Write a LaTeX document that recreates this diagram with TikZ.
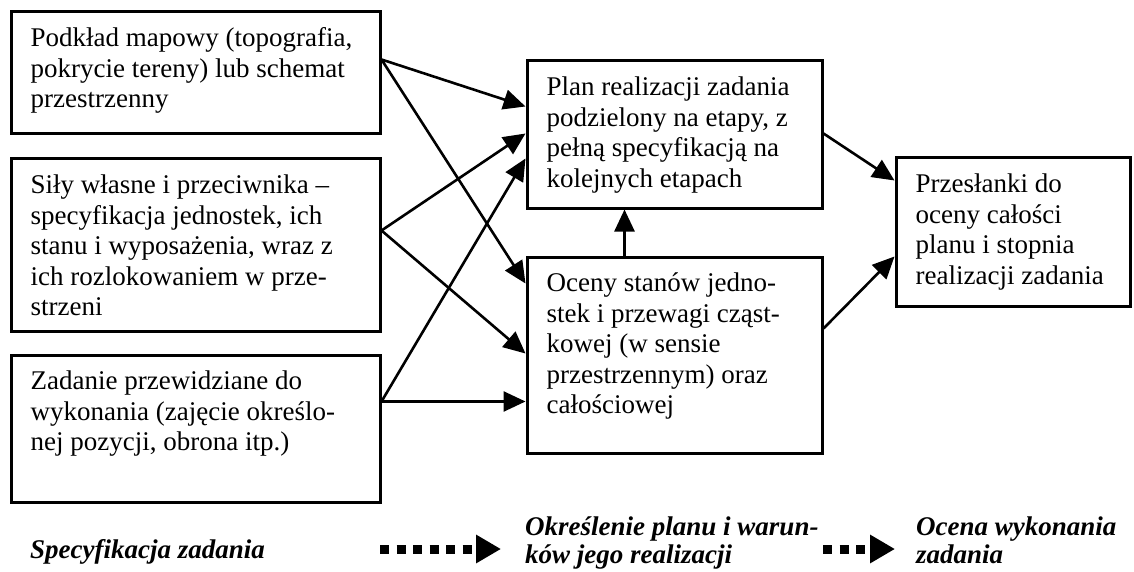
\documentclass[tikz,border=0pt]{standalone}
\usepackage{fontspec}
\setmainfont{Liberation Serif}
\usetikzlibrary{arrows.meta}
\begin{document}
\begin{tikzpicture}[x=1pt,y=-1pt,
  box/.style={draw, line width=3pt, rectangle, inner sep=0pt},
  boxtext/.style={anchor=north west, inner sep=0pt, align=left, font=\fontsize{27}{30.5}\selectfont},
  phase/.style={anchor=north west, inner sep=0pt, align=left, font=\fontsize{27}{28}\selectfont\bfseries\itshape},
  conn/.style={line width=2.6pt, -{Triangle[length=22pt,width=20pt]}},
  dotarrow/.style={line width=9pt, dash pattern=on 9pt off 7.5pt, -{Triangle[length=25pt,width=27pt]}}]
\useasboundingbox (0,0) rectangle (1134,572);
% boxes
\node[box, minimum width=369pt, minimum height=122pt] (A) at (195.5,73) {};
\node[box, minimum width=369pt, minimum height=172pt] (B) at (195.5,245) {};
\node[box, minimum width=369pt, minimum height=147pt] (C) at (195.5,428.5) {};
\node[box, minimum width=295pt, minimum height=147pt] (P) at (674.5,134.5) {};
\node[box, minimum width=295pt, minimum height=196pt] (O) at (674.5,355) {};
\node[box, minimum width=234pt, minimum height=148pt] (R) at (1013,232) {};
% texts
\node[boxtext] (tA) at ([xshift=21pt,yshift=-14.65pt]A.north west) {\strut Podkład mapowy (topografia,\\pokrycie tereny) lub schemat\\przestrzenny};
\node[boxtext] (tB) at ([xshift=21pt,yshift=-14.65pt]B.north west) {\strut Siły własne i przeciwnika –\\specyfikacja jednostek, ich\\stanu i wyposażenia, wraz z\\ich rozlokowaniem w prze-\\strzeni};
\node[boxtext] (tC) at ([xshift=21pt,yshift=-14.65pt]C.north west) {\strut Zadanie przewidziane do\\wykonania (zajęcie określo-\\nej pozycji, obrona itp.)};
\node[boxtext] (tP) at ([xshift=21pt,yshift=-14.65pt]P.north west) {\strut Plan realizacji zadania\\podzielony na etapy, z\\pełną specyfikacją na\\kolejnych etapach};
\node[boxtext] (tO) at ([xshift=21pt,yshift=-14.65pt]O.north west) {\strut Oceny stanów jedno-\\stek i przewagi cząst-\\kowej (w sensie\\przestrzennym) oraz\\całościowej};
\node[boxtext] (tR) at ([xshift=21pt,yshift=-14.65pt]R.north west) {\strut Przesłanki do\\oceny całości\\planu i stopnia\\realizacji zadania};
% connectors
\draw[conn] ([yshift=-49pt]A.north east) -- ([yshift=-47pt]P.north west);
\draw[conn] ([yshift=-49pt]A.north east) -- ([yshift=-28pt]O.north west);
\draw[conn] ([yshift=-73pt]B.north east) -- ([yshift=-74pt]P.north west);
\draw[conn] ([yshift=-73pt]B.north east) -- ([yshift=-98pt]O.north west);
\draw[conn] ([yshift=-48pt]C.north east) -- ([yshift=-99pt]P.north west);
\draw[conn] ([yshift=-48pt]C.north east) -- ([yshift=-146pt]O.north west);
\draw[conn] ([xshift=99pt]O.north west) -- ([xshift=99pt]P.south west);
\draw[conn] ([yshift=-74pt]P.north east) -- ([yshift=-24pt]R.north west);
\draw[conn] ([yshift=-73pt]O.north east) -- ([yshift=-100pt]R.north west);
% phases
\node[phase] (s1) at (30,538.4) {\strut Specyfikacja zadania};
\node[phase] (s2) at (525,515.4) {\strut Określenie planu i warun-\\ków jego realizacji};
\node[phase] (s3) at (916,515.4) {\strut Ocena wykonania\\zadania};
\coordinate (d1s) at (380,549);
\coordinate (d1e) at (501,549);
\coordinate (d2s) at (823,549);
\coordinate (d2e) at (895,549);
\draw[dotarrow] (d1s) -- (d1e);
\draw[dotarrow] (d2s) -- (d2e);
\end{tikzpicture}
\end{document}
